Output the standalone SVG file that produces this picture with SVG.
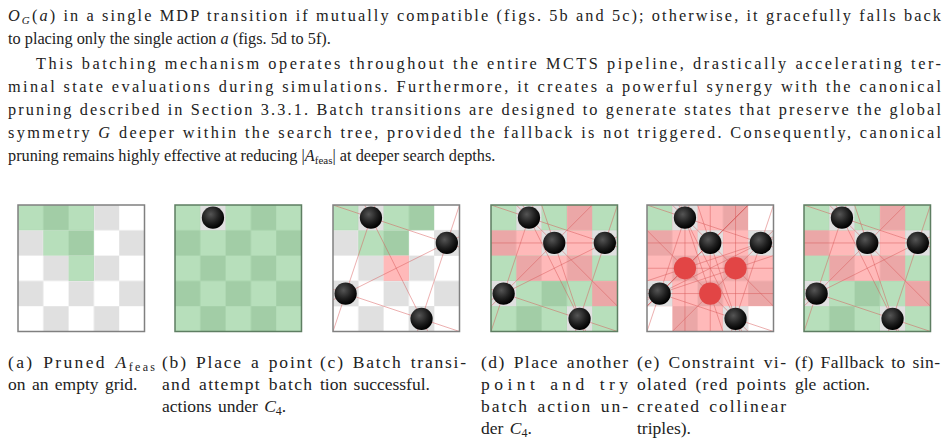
<svg xmlns="http://www.w3.org/2000/svg" width="947" height="447" viewBox="0 0 947 447">
<style>
.t{font-family:"Liberation Serif","DejaVu Serif",serif;font-size:16.3px;fill:#222}
.c{font-family:"Liberation Serif","DejaVu Serif",serif;font-size:17.5px;fill:#222;word-spacing:2px}
.ln{stroke:#d85a5a;stroke-opacity:.55;stroke-width:0.035;fill:none}
.bd{fill:none;stroke:#808080;stroke-width:1.5;vector-effect:non-scaling-stroke}
.bg{fill:none;stroke:#5e7e62;stroke-width:1.5;vector-effect:non-scaling-stroke}
.pc{fill:#e0e0e0}
</style>
<defs>
<pattern id="W" width="2" height="2" patternUnits="userSpaceOnUse"><rect width="2" height="2" fill="#fff"/><rect x="1" width="1" height="1" fill="#e0e0e0"/><rect y="1" width="1" height="1" fill="#e0e0e0"/></pattern>
<pattern id="G" width="2" height="2" patternUnits="userSpaceOnUse"><rect width="2" height="2" fill="#b7dfbb"/><rect x="1" width="1" height="1" fill="#a2cda6"/><rect y="1" width="1" height="1" fill="#a2cda6"/></pattern>
<pattern id="R" width="2" height="2" patternUnits="userSpaceOnUse"><rect width="2" height="2" fill="#ffb9b9"/><rect x="1" width="1" height="1" fill="#eba7a7"/><rect y="1" width="1" height="1" fill="#eba7a7"/></pattern>
<radialGradient id="ball" cx="0.4" cy="0.35" r="0.65"><stop offset="0" stop-color="#555"/><stop offset="0.6" stop-color="#1e1e1e"/><stop offset="1" stop-color="#000"/></radialGradient>
<clipPath id="clip"><rect width="5" height="5"/></clipPath>
<g id="linesC">
<line x1="-13.5" y1="-4.5" x2="19.5" y2="6.5"/><line x1="6.5" y1="-14.5" x2="-4.5" y2="18.5"/><line x1="-8.5" y1="-19.5" x2="13.5" y2="24.5"/><line x1="24.5" y1="-8.5" x2="-19.5" y2="13.5"/><line x1="9.5" y1="-13.5" x2="-1.5" y2="19.5"/><line x1="-14.5" y1="-1.5" x2="18.5" y2="9.5"/>
</g>
<g id="linesD">
<use href="#linesC"/>
<line x1="-3.5" y1="-4.5" x2="7.5" y2="6.5"/><line x1="-7.5" y1="1.5" x2="14.5" y2="1.5"/><line x1="12.5" y1="-8.5" x2="-9.5" y2="13.5"/><line x1="-2.5" y1="-13.5" x2="8.5" y2="19.5"/>
</g>
<g id="linesE">
<use href="#linesD"/>
<line x1="1.5" y1="12.5" x2="1.5" y2="-9.5"/><line x1="-3.5" y1="7.5" x2="7.5" y2="-3.5"/><line x1="-13.5" y1="7.5" x2="19.5" y2="-3.5"/><line x1="6.5" y1="-2.5" x2="-4.5" y2="8.5"/><line x1="-8.5" y1="-7.5" x2="13.5" y2="14.5"/><line x1="-8.5" y1="2.5" x2="13.5" y2="2.5"/><line x1="-1.5" y1="7.5" x2="9.5" y2="-3.5"/><line x1="18.5" y1="-2.5" x2="-14.5" y2="8.5"/><line x1="3.5" y1="-7.5" x2="3.5" y2="14.5"/><line x1="7.5" y1="18.5" x2="-3.5" y2="-14.5"/><line x1="2.5" y1="13.5" x2="2.5" y2="-8.5"/><line x1="12.5" y1="3.5" x2="-9.5" y2="3.5"/>
</g>
<circle id="b" r="0.44" fill="url(#ball)"/>
<circle id="rp" r="0.44" fill="#e24545"/>
</defs>

<rect width="947" height="447" fill="#fff"/>

<g class="t">
<text x="8" y="21" textLength="933"><tspan font-style="italic">O</tspan><tspan font-style="italic" font-size="11" dy="3">G</tspan><tspan dy="-3">(</tspan><tspan font-style="italic">a</tspan>) in a single MDP transition if mutually compatible (figs. 5b and 5c); otherwise, it gracefully falls back</text>
<text x="8" y="44">to placing only the single action <tspan font-style="italic">a</tspan> (figs. 5d to 5f).</text>
<text x="36" y="69" textLength="905">This batching mechanism operates throughout the entire MCTS pipeline, drastically accelerating ter-</text>
<text x="8" y="92" textLength="933">minal state evaluations during simulations. Furthermore, it creates a powerful synergy with the canonical</text>
<text x="8" y="115" textLength="933">pruning described in Section 3.3.1. Batch transitions are designed to generate states that preserve the global</text>
<text x="8" y="138" textLength="933">symmetry <tspan font-style="italic">G</tspan> deeper within the search tree, provided the fallback is not triggered. Consequently, canonical</text>
<text x="8" y="161">pruning remains highly effective at reducing |<tspan font-style="italic">A</tspan><tspan font-size="11" dy="3">feas</tspan><tspan dy="-3">|</tspan> at deeper search depths.</text>
</g>

<g id="gridA" transform="translate(18,205) scale(25.3)">
<rect width="5" height="5" fill="url(#W)"/>
<rect x="0" y="0" width="3" height="1" fill="url(#G)"/><rect x="1" y="1" width="2" height="1" fill="url(#G)"/><rect x="2" y="2" width="1" height="1" fill="url(#G)"/>
<rect width="5" height="5" class="bd"/>
</g>

<g id="gridB" transform="translate(175,205) scale(25.3)">
<rect width="5" height="5" fill="url(#G)"/>
<rect x="1" y="0" width="1" height="1" class="pc"/>
<use href="#b" x="1.5" y="0.5"/>
<rect width="5" height="5" class="bg"/>
</g>

<g id="gridC" transform="translate(333,205) scale(25.3)">
<rect width="5" height="5" fill="url(#W)"/>
<rect x="0" y="0" width="4" height="1" fill="url(#G)"/><rect x="1" y="1" width="2" height="1" fill="url(#G)"/><rect x="2" y="2" width="1" height="1" fill="url(#R)"/>
<rect x="1" y="0" width="1" height="1" class="pc"/><rect x="4" y="1" width="1" height="1" class="pc"/><rect x="0" y="3" width="1" height="1" class="pc"/><rect x="3" y="4" width="1" height="1" class="pc"/>
<g class="ln" clip-path="url(#clip)"><use href="#linesC"/></g>
<use href="#b" x="1.5" y="0.5"/><use href="#b" x="4.5" y="1.5"/><use href="#b" x="0.5" y="3.5"/><use href="#b" x="3.5" y="4.5"/>
<rect width="5" height="5" class="bd"/>
</g>

<g id="gridD" transform="translate(491,205) scale(25.3)">
<rect width="5" height="5" fill="url(#G)"/>
<rect x="3" y="0" width="1" height="1" fill="url(#R)"/><rect x="0" y="1" width="4" height="1" fill="url(#R)"/><rect x="1" y="2" width="3" height="1" fill="url(#R)"/><rect x="4" y="3" width="1" height="1" fill="url(#R)"/>
<rect x="1" y="0" width="1" height="1" class="pc"/><rect x="2" y="1" width="1" height="1" class="pc"/><rect x="4" y="1" width="1" height="1" class="pc"/><rect x="0" y="3" width="1" height="1" class="pc"/><rect x="3" y="4" width="1" height="1" class="pc"/>
<g class="ln" clip-path="url(#clip)"><use href="#linesD"/></g>
<use href="#b" x="1.5" y="0.5"/><use href="#b" x="2.5" y="1.5"/><use href="#b" x="4.5" y="1.5"/><use href="#b" x="0.5" y="3.5"/><use href="#b" x="3.5" y="4.5"/>
<rect width="5" height="5" class="bg"/>
</g>

<g id="gridE" transform="translate(647,205) scale(25.3)">
<rect width="5" height="5" fill="url(#R)"/>
<rect x="0" y="0" width="1" height="1" fill="url(#G)"/>
<rect x="4" y="0" width="1" height="1" fill="#fff"/><rect x="0" y="4" width="1" height="1" fill="#fff"/><rect x="4" y="4" width="1" height="1" fill="#fff"/>
<rect x="1" y="0" width="1" height="1" class="pc"/><rect x="2" y="1" width="1" height="1" class="pc"/><rect x="4" y="1" width="1" height="1" class="pc"/><rect x="0" y="3" width="1" height="1" class="pc"/><rect x="3" y="4" width="1" height="1" class="pc"/>
<g class="ln" clip-path="url(#clip)"><use href="#linesE"/></g>
<use href="#b" x="1.5" y="0.5"/><use href="#b" x="2.5" y="1.5"/><use href="#b" x="4.5" y="1.5"/><use href="#b" x="0.5" y="3.5"/><use href="#b" x="3.5" y="4.5"/>
<use href="#rp" x="1.5" y="2.5"/><use href="#rp" x="3.5" y="2.5"/><use href="#rp" x="2.5" y="3.5"/>
<rect width="5" height="5" class="bd"/>
</g>

<g id="gridF" transform="translate(804,205) scale(25.3)">
<rect width="5" height="5" fill="url(#G)"/>
<rect x="3" y="0" width="1" height="1" fill="url(#R)"/><rect x="0" y="1" width="4" height="1" fill="url(#R)"/><rect x="1" y="2" width="3" height="1" fill="url(#R)"/><rect x="4" y="3" width="1" height="1" fill="url(#R)"/>
<rect x="1" y="0" width="1" height="1" class="pc"/><rect x="2" y="1" width="1" height="1" class="pc"/><rect x="4" y="1" width="1" height="1" class="pc"/><rect x="0" y="3" width="1" height="1" class="pc"/><rect x="3" y="4" width="1" height="1" class="pc"/>
<g class="ln" clip-path="url(#clip)"><use href="#linesD"/></g>
<use href="#b" x="1.5" y="0.5"/><use href="#b" x="2.5" y="1.5"/><use href="#b" x="4.5" y="1.5"/><use href="#b" x="0.5" y="3.5"/><use href="#b" x="3.5" y="4.5"/>
<rect width="5" height="5" class="bg"/>
</g>

<g class="c">
<text x="8" y="368" textLength="147">(a) Pruned <tspan font-style="italic">A</tspan><tspan font-size="12" dy="3">feas</tspan></text>
<text x="8" y="390">on an empty grid.</text>
<text x="162" y="368" textLength="150">(b) Place a point</text>
<text x="162" y="390" textLength="150">and attempt batch</text>
<text x="162" y="412">actions under <tspan font-style="italic">C</tspan><tspan font-size="12" dy="3">4</tspan><tspan dy="-3">.</tspan></text>
<text x="320" y="368" textLength="146">(c) Batch transi-</text>
<text x="320" y="390">tion successful.</text>
<text x="481" y="368" textLength="147">(d) Place another</text>
<text x="481" y="390" textLength="147">point and try</text>
<text x="481" y="412" textLength="147">batch action un-</text>
<text x="481" y="434">der <tspan font-style="italic">C</tspan><tspan font-size="12" dy="3">4</tspan><tspan dy="-3">.</tspan></text>
<text x="637" y="368" textLength="149">(e) Constraint vi-</text>
<text x="637" y="390" textLength="149">olated (red points</text>
<text x="637" y="412" textLength="149">created collinear</text>
<text x="637" y="434">triples).</text>
<text x="795" y="368" textLength="145">(f) Fallback to sin-</text>
<text x="795" y="390">gle action.</text>
</g>
</svg>
